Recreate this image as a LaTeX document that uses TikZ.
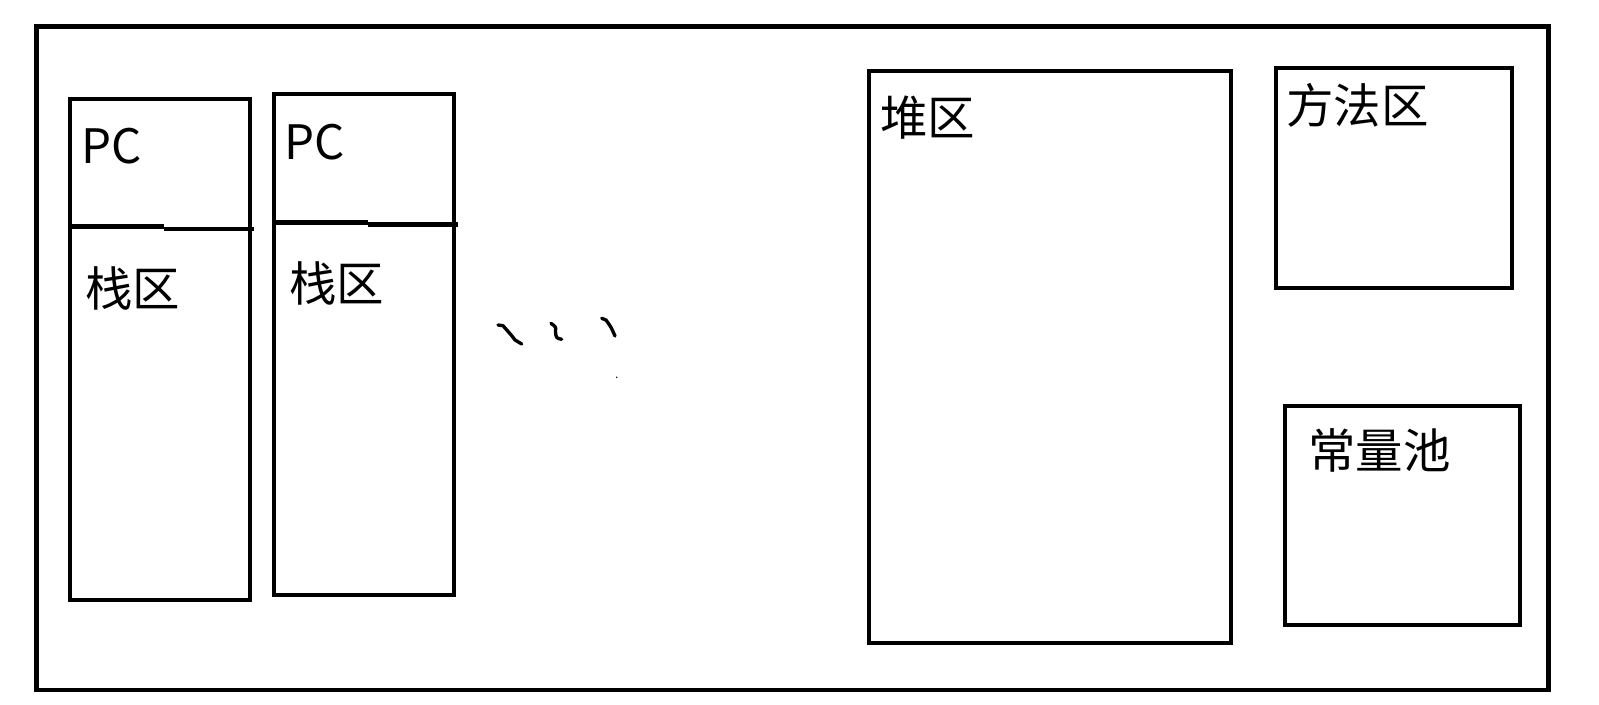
\documentclass[tikz,border=0pt]{standalone}
\usepackage{fontspec}
\setmainfont{Noto Sans CJK SC}

\tikzset{
	area/.style={line width=2.7pt},
	lbl/.style={anchor=west, inner sep=0pt, font=\fontsize{27pt}{32pt}\selectfont},
	squiggle/.style={line width=1.9pt, line cap=round, line join=round}
}

\begin{document}
\begin{tikzpicture}[x=0.02cm, y=-0.02cm]
	\fill[white] (0,0) rectangle (1599,705);
	\useasboundingbox (0,0) rectangle (1599,705);
	% outer frame
	\draw[area] (36.5,26.7) rectangle (1548.5,690);
	% first thread
	\draw[area] (70,99) rectangle (250,600);
	\draw[area] (70,226.7) -- (164,226.7) (164,229) -- (254,229);
	\node[lbl] (pcA) at (81,146) {PC};
	\node[lbl] (stackA) at (85,288) {栈区};
	% second thread
	\draw[area] (274,94) rectangle (454,595);
	\draw[area] (274,222.7) -- (368,222.7) (368,224.5) -- (458,224.5);
	\node[lbl] (pcB) at (284,142) {PC};
	\node[lbl] (stackB) at (289,283) {栈区};
	% more threads
	\draw[squiggle] (498,325) -- (503,325.7) .. controls (508,330) .. (512,336) -- (515,340) -- (521.7,344);
	\draw[squiggle] (551,323.3) .. controls (556,327) .. (555.5,331) .. controls (556,338) .. (561.7,339.3);
	\draw[squiggle] (601.7,318.3) -- (606,320) .. controls (611,327) .. (615,336);
	\fill (616.7,377.3) circle (0.8);
	% shared areas
	\draw[area] (869,71) rectangle (1231,643);
	\node[lbl] (heap) at (880,118) {堆区};
	\draw[area] (1276,68) rectangle (1512,288);
	\node[lbl] (method) at (1286,105) {方法区};
	\draw[area] (1285,406) rectangle (1520,625);
	\node[lbl] (pool) at (1308,450) {常量池};
\end{tikzpicture}
\end{document}
